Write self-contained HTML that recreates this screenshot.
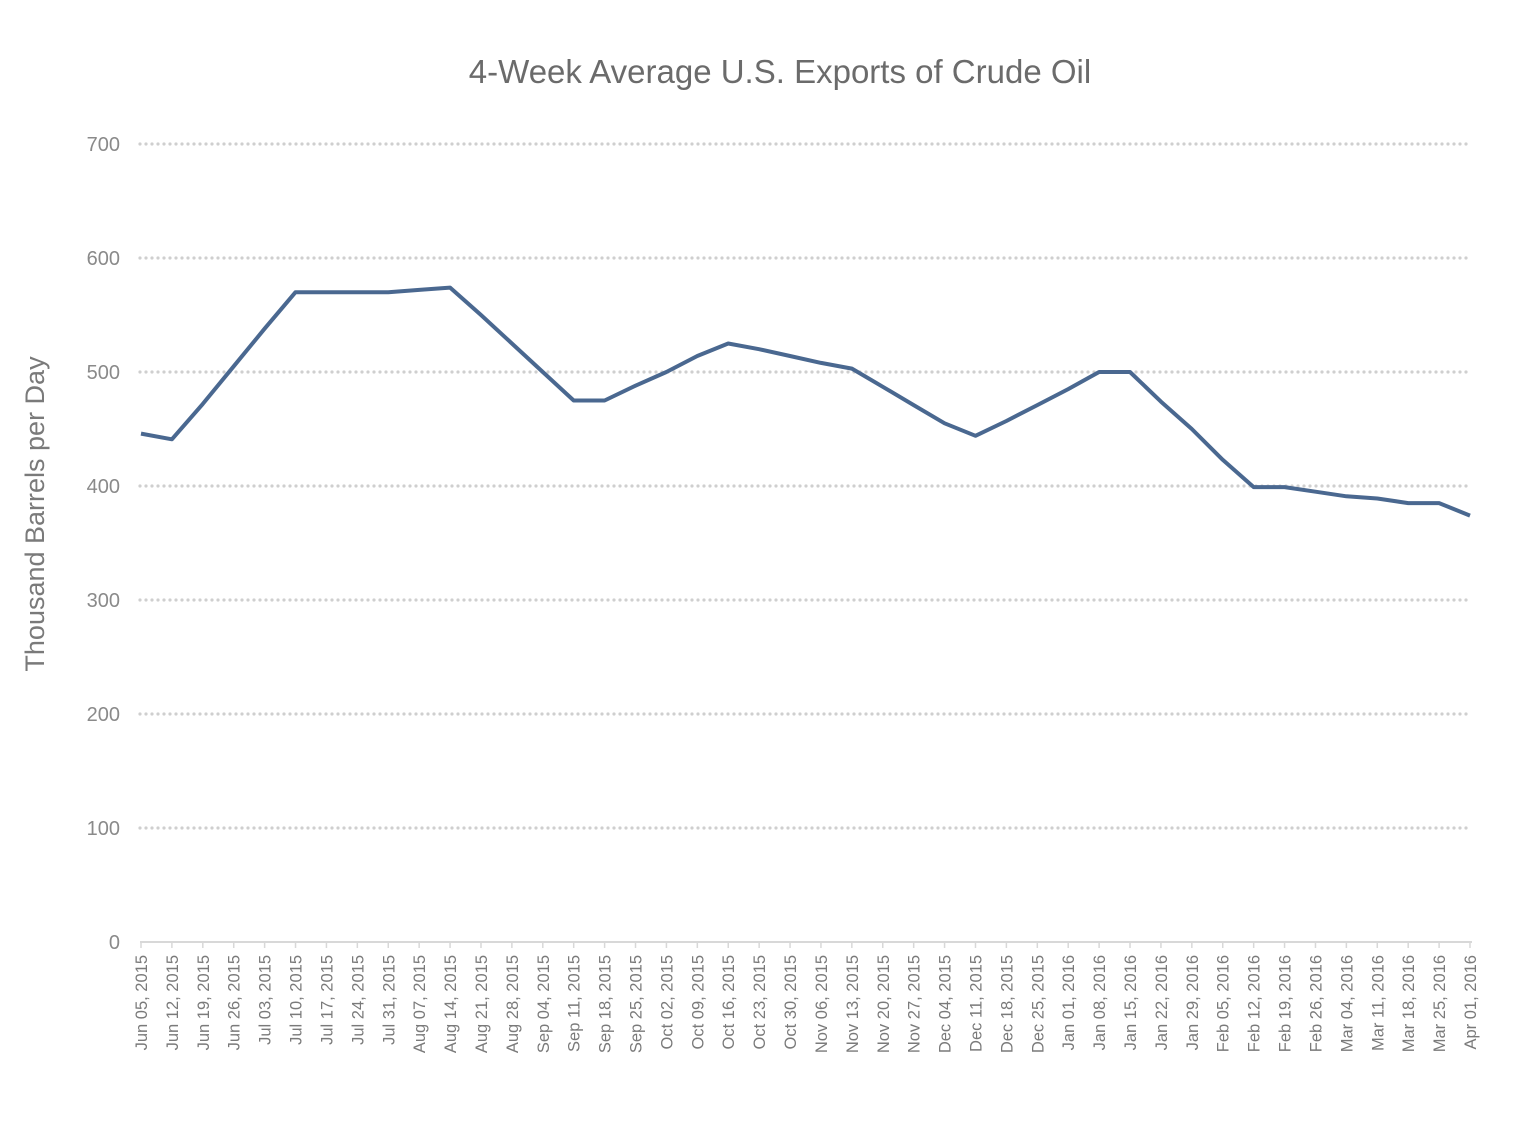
<!DOCTYPE html>
<html><head><meta charset="utf-8"><style>
html,body{margin:0;padding:0;background:#fff;}
svg{display:block;font-family:"Liberation Sans",sans-serif;}
</style></head><body>
<svg width="1517" height="1121" viewBox="0 0 1517 1121" xmlns="http://www.w3.org/2000/svg">
<text x="780" y="83" text-anchor="middle" font-size="33" fill="#6b6b6b">4-Week Average U.S. Exports of Crude Oil</text>
<text transform="translate(44,514) rotate(-90)" text-anchor="middle" font-size="27" fill="#7a7a7a">Thousand Barrels per Day</text>
<g id="grid" stroke="#cfcfcf" stroke-width="3.2" stroke-dasharray="0 6" stroke-linecap="round"></g>
<g id="ylab" font-size="20" fill="#8a8a8a" text-anchor="end"></g>
<line x1="140" y1="942" x2="1472" y2="942" stroke="#d8d8d8" stroke-width="2"/>
<g id="xt" stroke="#d8d8d8" stroke-width="1.5"></g>
<g id="xlab" font-size="16.5" fill="#7a7a7a" text-anchor="end"></g>
<polyline id="ln" fill="none" stroke="#4a6890" stroke-width="4" stroke-linejoin="round"/>
</svg>
<script>
var NS="http://www.w3.org/2000/svg";
function el(t,a,p,txt){var e=document.createElementNS(NS,t);for(var k in a)e.setAttribute(k,a[k]);if(txt)e.textContent=txt;document.getElementById(p).appendChild(e);return e;}
for(var v=0;v<=700;v+=100){var y=942-v*1.14;
 if(v>0)el("line",{x1:140,y1:y,x2:1472,y2:y},"grid");
 el("text",{x:120,y:y+7},"ylab",String(v));}
var d=[446,441,472,505,538,570,570,570,570,572,574,550,525,500,475,475,488,500,514,525,520,514,508,503,487,471,455,444,457,471,485,500,500,474,450,423,399,399,395,391,389,385,385,374];
var mon=["Jan","Feb","Mar","Apr","May","Jun","Jul","Aug","Sep","Oct","Nov","Dec"];
var start=new Date(2015,5,5);var pts=[];var step=1329/43;
for(var i=0;i<44;i++){var x=141+i*step;pts.push(x.toFixed(1)+","+(942-d[i]*1.14).toFixed(1));
 el("line",{x1:x,y1:942,x2:x,y2:948},"xt");
 var dt=new Date(start.getTime()+i*7*86400000);
 var s=mon[dt.getMonth()]+" "+("0"+dt.getDate()).slice(-2)+", "+dt.getFullYear();
 el("text",{transform:"translate("+(x+6)+",955) rotate(-90)"},"xlab",s);}
document.getElementById("ln").setAttribute("points",pts.join(" "));
</script>
</body></html>
